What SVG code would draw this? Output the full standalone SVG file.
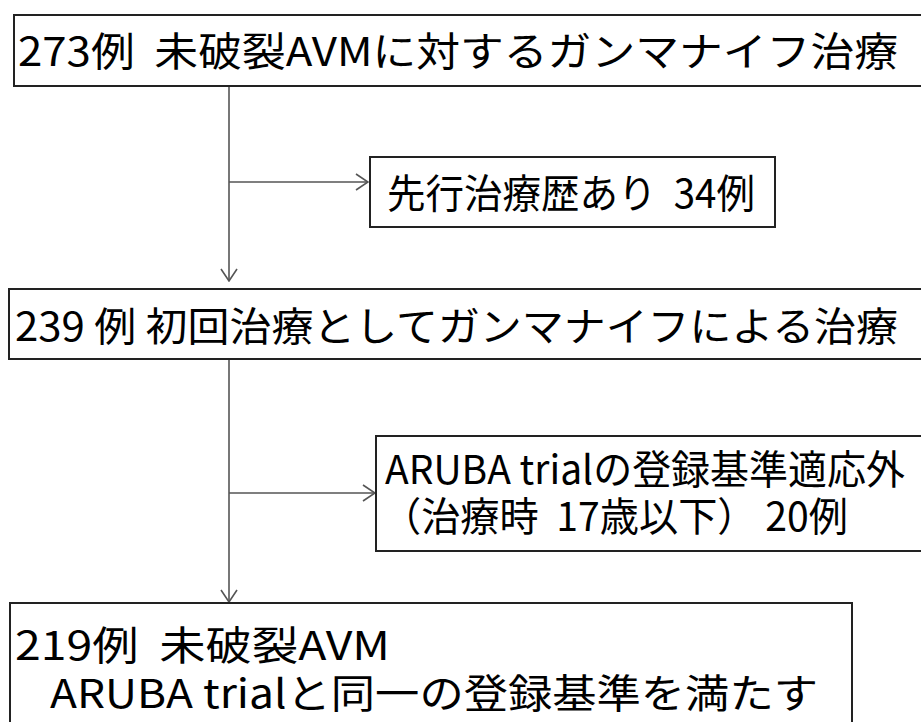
<svg xmlns="http://www.w3.org/2000/svg" width="921" height="722" viewBox="0 0 921 722" xml:space="preserve">
<style>
.box{fill:#fff;stroke:#222;stroke-width:2}
.t{font-family:"Noto Sans CJK JP","Liberation Sans",sans-serif;font-size:40px;fill:#000;white-space:pre}
.c{fill:none;stroke:#555;stroke-width:1.6}
</style>
<defs>
<marker id="a" viewBox="0 0 14 18" refX="13" refY="9" markerWidth="14" markerHeight="18" markerUnits="userSpaceOnUse" orient="auto">
<path d="M1,1 L13,9 L1,17" fill="none" stroke="#555" stroke-width="1.6"/>
</marker>
</defs>
<rect width="921" height="722" fill="#fff"/>
<g id="connectors">
<line class="c" x1="229" y1="86" x2="229" y2="281" marker-end="url(#a)"/>
<line class="c" x1="229" y1="182" x2="368" y2="182" marker-end="url(#a)"/>
<line class="c" x1="229" y1="359" x2="229" y2="602" marker-end="url(#a)"/>
<line class="c" x1="229" y1="493" x2="375" y2="493" marker-end="url(#a)"/>
</g>
<g id="n1">
<rect class="box" x="14" y="15" width="920" height="71"/>
<text class="t" x="18" y="66" textLength="880" lengthAdjust="spacingAndGlyphs">273例  未破裂AVMに対するガンマナイフ治療</text>
</g>
<g id="n2">
<rect class="box" x="370" y="157" width="405" height="70"/>
<text class="t" x="387" y="208" textLength="368" lengthAdjust="spacingAndGlyphs">先行治療歴あり  34例</text>
</g>
<g id="n3">
<rect class="box" x="9" y="289" width="925" height="70"/>
<text class="t" x="15" y="341" textLength="883" lengthAdjust="spacingAndGlyphs">239 例 初回治療としてガンマナイフによる治療</text>
</g>
<g id="n4">
<rect class="box" x="376" y="436" width="560" height="115"/>
<text class="t" x="385" y="484" font-size="38" textLength="520" lengthAdjust="spacingAndGlyphs">ARUBA trialの登録基準適応外</text>
<text class="t" x="382" y="531" font-size="38" textLength="466" lengthAdjust="spacingAndGlyphs">（治療時  17歳以下） 20例</text>
</g>
<g id="n5">
<rect class="box" x="10" y="603" width="842" height="130"/>
<text class="t" x="15" y="660" textLength="375" lengthAdjust="spacingAndGlyphs">219例  未破裂AVM</text>
<text class="t" x="50" y="708" textLength="768" lengthAdjust="spacingAndGlyphs">ARUBA trialと同一の登録基準を満たす</text>
</g>
</svg>
